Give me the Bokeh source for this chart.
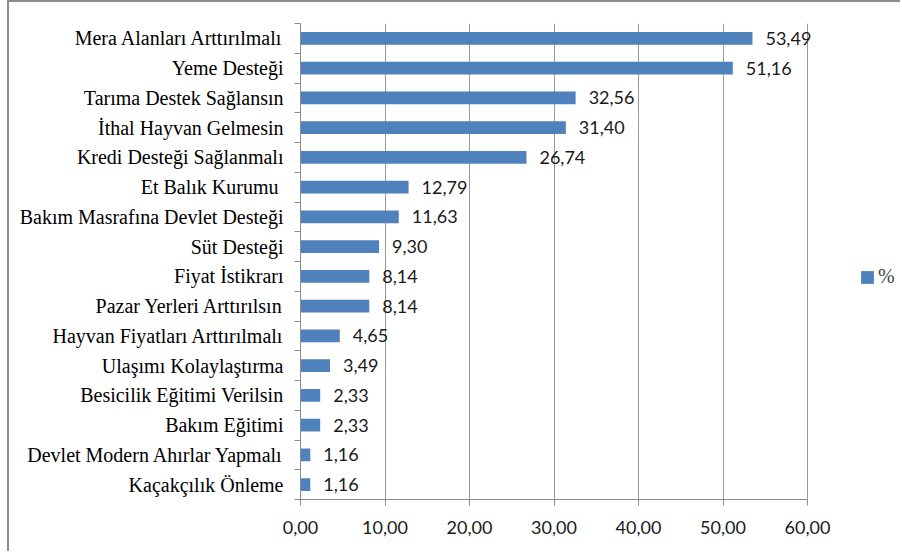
from bokeh.plotting import figure
from bokeh.models import FixedTicker, Legend, LegendItem, ColumnDataSource
from bokeh.core.properties import value
from bokeh.embed import file_html
from bokeh.resources import INLINE

categories = [
    "Mera Alanları Arttırılmalı",
    "Yeme Desteği",
    "Tarıma Destek Sağlansın",
    "İthal Hayvan Gelmesin",
    "Kredi Desteği Sağlanmalı",
    "Et Balık Kurumu ",
    "Bakım Masrafına Devlet Desteği",
    "Süt Desteği",
    "Fiyat İstikrarı",
    "Pazar Yerleri Arttırılsın",
    "Hayvan Fiyatları Arttırılmalı",
    "Ulaşımı Kolaylaştırma",
    "Besicilik Eğitimi Verilsin",
    "Bakım Eğitimi",
    "Devlet Modern Ahırlar Yapmalı",
    "Kaçakçılık Önleme",
]
values = [53.49, 51.16, 32.56, 31.40, 26.74, 12.79, 11.63, 9.30, 8.14, 8.14,
          4.65, 3.49, 2.33, 2.33, 1.16, 1.16]
x_ticks = [0, 10, 20, 30, 40, 50, 60]
series_name = "%"

n = len(categories)
ypos = [n - 1 - i for i in range(n)]
labels = [f"{v:.2f}".replace(".", ",") for v in values]
src = ColumnDataSource(dict(y=ypos, v=values, lab=labels, cat=categories))

BAR = "#4F81BD"
AX = "#8c8c8c"
# the axis (0..60) covers 507px; the frame runs on to the right edge (602px)
x_end = x_ticks[-1] * 602 / 507

p = figure(width=893, height=551, output_backend="svg", toolbar_location=None,
           x_range=(0, x_end), y_range=(-0.5, n - 0.5),
           min_border_left=291, min_border_right=0, min_border_top=21,
           min_border_bottom=54)
p.styles = {"margin-left": "7px", "border-left": "2px solid " + AX,
            "border-top": "2px solid " + AX}
p.outline_line_color = None
p.background_fill_color = "white"
p.border_fill_color = "white"

r = p.hbar(y="y", right="v", left=0, height=0.43, source=src,
           fill_color=BAR, line_color=None)
p.text(x="v", y="y", text="lab", source=src, x_offset=13,
       text_baseline="middle", text_align="left",
       text_font=value("Lato"), text_font_size="18px", text_color="#1a1a1a")

# x axis
p.xaxis.bounds = (x_ticks[0], x_ticks[-1])
p.xaxis.ticker = FixedTicker(ticks=x_ticks)
p.xaxis.major_label_overrides = {t: f"{t:.2f}".replace(".", ",") for t in x_ticks}
p.xaxis.axis_line_color = AX
p.xaxis.major_tick_line_color = AX
p.xaxis.major_tick_out = 6
p.xaxis.major_tick_in = 0
p.xaxis.minor_tick_line_color = None
p.xaxis.major_label_standoff = 15
p.xaxis.major_label_text_font = "Lato"
p.xaxis.major_label_text_font_size = "18px"
p.xaxis.major_label_text_color = "#1a1a1a"

# y axis
p.yaxis.ticker = FixedTicker(ticks=ypos, minor_ticks=[k - 0.5 for k in range(n + 1)])
p.yaxis.major_label_overrides = {y: c for y, c in zip(ypos, categories)}
p.yaxis.axis_line_color = AX
p.yaxis.major_tick_line_color = None
p.yaxis.major_tick_out = 0
p.yaxis.major_tick_in = 0
p.yaxis.minor_tick_line_color = AX
p.yaxis.minor_tick_out = 6
p.yaxis.minor_tick_in = 0
p.yaxis.major_label_standoff = 11
p.yaxis.major_label_text_font = "Liberation Serif"
p.yaxis.major_label_text_font_size = "20px"
p.yaxis.major_label_text_color = "#000000"

p.xgrid.ticker = FixedTicker(ticks=x_ticks)
p.xgrid.grid_line_color = "#9a9a9a"
p.ygrid.grid_line_color = None

legend = Legend(items=[LegendItem(label=series_name, renderers=[r])],
                location=(559, 211), padding=0, margin=0, border_line_color=None,
                background_fill_alpha=0, glyph_width=16, glyph_height=16,
                label_text_font="Liberation Serif", label_text_font_size="20px",
                label_standoff=3)
p.add_layout(legend, "center")

open("out.html", "w").write(file_html(p, INLINE))
